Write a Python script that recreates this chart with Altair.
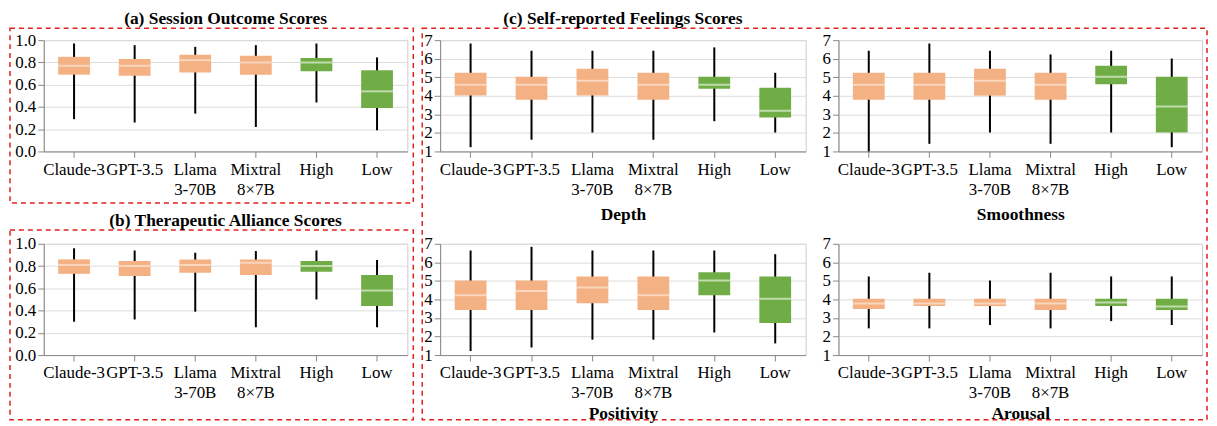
import altair as alt
import pandas as pd

models = ["Claude-3", "GPT-3.5", "Llama 3-70B", "Mixtral 8×7B", "High", "Low"]
groups = ["LLM", "LLM", "LLM", "LLM", "Human", "Human"]

# whisker low, q1, median, q3, whisker high
session = dict(
    lo=[0.29, 0.26, 0.34, 0.22, 0.44, 0.19],
    q1=[0.69, 0.68, 0.71, 0.69, 0.72, 0.39],
    med=[0.77, 0.77, 0.82, 0.80, 0.80, 0.54],
    q3=[0.85, 0.83, 0.87, 0.86, 0.84, 0.73],
    hi=[0.97, 0.955, 0.94, 0.955, 0.97, 0.845],
)
alliance = dict(
    lo=[0.30, 0.32, 0.39, 0.25, 0.50, 0.25],
    q1=[0.73, 0.71, 0.74, 0.72, 0.75, 0.44],
    med=[0.81, 0.80, 0.81, 0.83, 0.80, 0.58],
    q3=[0.86, 0.845, 0.86, 0.86, 0.845, 0.72],
    hi=[0.96, 0.94, 0.92, 0.935, 0.94, 0.855],
)
depth = dict(
    lo=[1.23, 1.63, 2.02, 1.63, 2.63, 2.02],
    q1=[4.01, 3.79, 4.01, 3.79, 4.38, 2.83],
    med=[4.6, 4.6, 4.81, 4.6, 4.6, 3.2],
    q3=[5.24, 5.03, 5.46, 5.24, 5.03, 4.44],
    hi=[6.82, 6.43, 6.43, 6.43, 6.61, 5.24],
)
smoothness = dict(
    lo=[1.0, 1.41, 2.02, 1.41, 2.02, 1.23],
    q1=[3.79, 3.79, 4.01, 3.79, 4.62, 2.02],
    med=[4.6, 4.6, 4.81, 4.6, 5.03, 3.42],
    q3=[5.24, 5.24, 5.46, 5.24, 5.62, 5.03],
    hi=[6.43, 6.82, 6.43, 6.23, 6.43, 6.01],
)
positivity = dict(
    lo=[1.22, 1.41, 1.83, 1.83, 2.22, 1.63],
    q1=[3.43, 3.43, 3.80, 3.43, 4.23, 2.73],
    med=[4.23, 4.45, 4.65, 4.23, 5.02, 4.04],
    q3=[5.02, 5.02, 5.24, 5.24, 5.46, 5.24],
    hi=[6.64, 6.84, 6.64, 6.64, 6.64, 6.44],
)
arousal = dict(
    lo=[2.44, 2.44, 2.62, 2.44, 2.83, 2.62],
    q1=[3.48, 3.64, 3.64, 3.43, 3.64, 3.43],
    med=[3.78, 3.78, 3.78, 3.78, 3.84, 3.62],
    q3=[4.04, 4.04, 4.04, 4.04, 4.04, 4.04],
    hi=[5.24, 5.44, 5.02, 5.44, 5.24, 5.24],
)

unit_ticks = [0.0, 0.2, 0.4, 0.6, 0.8, 1.0]
likert_ticks = [1, 2, 3, 4, 5, 6, 7]

ORANGE = "#F4B183"
GREEN = "#70AD47"
MED_O = "#FBE5D6"
MED_G = "#E2F0D9"
RED = "#E0201B"
FONT = "Liberation Serif"
LABEL_SIZE = 17
TITLE_SIZE = 17.5


def panel(stats, ydom, yvals, fmt, w, h, title=None, xtitle=None, tpad=6, frame=None):
    df = pd.DataFrame({"model": models, "group": groups, **stats})
    xaxis = alt.Axis(labelAngle=0, labelExpr="split(datum.label, ' ')", titleFontWeight="bold",
                     titleFontSize=TITLE_SIZE, titleFont=FONT, titlePadding=tpad, titleColor="black",
                     labelFont=FONT, labelFontSize=LABEL_SIZE, labelColor="black", labelPadding=4,
                     labelLineHeight=20, tickSize=6, labelOverlap=False)
    x = alt.X("model:N", sort=models, title=xtitle,
              scale=alt.Scale(paddingInner=0, paddingOuter=0), axis=xaxis)
    yscale = alt.Scale(domain=ydom, nice=False, zero=False)

    def yaxis():
        return alt.Axis(values=yvals, format=fmt, grid=True, labelOverlap=False,
                        labelFont=FONT, labelFontSize=LABEL_SIZE, labelColor="black",
                        labelPadding=2, tickSize=6, tickCount=len(yvals))

    base = alt.Chart(df).encode(x=x)
    whisk = base.mark_rule(color="black", strokeWidth=2).encode(
        y=alt.Y("lo:Q", scale=yscale, axis=yaxis(), title=None), y2="hi:Q")
    box = base.mark_bar(size=32).encode(
        y=alt.Y("q1:Q", scale=yscale, axis=yaxis(), title=None), y2="q3:Q",
        color=alt.condition(alt.datum.group == "Human", alt.value(GREEN), alt.value(ORANGE)))
    med = base.mark_tick(size=32, thickness=2).encode(
        y=alt.Y("med:Q", scale=yscale, axis=yaxis(), title=None),
        color=alt.condition(alt.datum.group == "Human", alt.value(MED_G), alt.value(MED_O)))
    layers = [whisk, box, med]
    if frame is not None:
        fx, fx2, fy, fy2 = frame
        rect = alt.Chart(pd.DataFrame({"k": [0]})).mark_rect(
            fillOpacity=0, stroke=RED, strokeDash=[5, 4], strokeWidth=1.5
        ).encode(x=alt.value(fx), x2=alt.value(fx2), y=alt.value(fy), y2=alt.value(fy2))
        layers.append(rect)
    ch = alt.layer(*layers).properties(width=w, height=h)
    if title is not None:
        ch = ch.properties(title=alt.TitleParams(title, fontSize=TITLE_SIZE, font=FONT,
                                                 fontWeight="bold", offset=0, color="black"))
    return ch


pa = panel(session, [0, 1], unit_ticks, ".1f", 366, 112, title="(a) Session Outcome Scores",
           frame=(-34, 372, -12, 164))
pb = panel(alliance, [0, 1], unit_ticks, ".1f", 366, 112, title="(b) Therapeutic Alliance Scores",
           frame=(-34, 372, -14, 177))
p_depth = panel(depth, [1, 7], likert_ticks, "d", 368, 112, xtitle="Depth", tpad=9,
                title="(c) Self-reported Feelings Scores", frame=(-18, 772, -12, 382))
p_smooth = panel(smoothness, [1, 7], likert_ticks, "d", 366, 112, xtitle="Smoothness", tpad=9)
p_pos = panel(positivity, [1, 7], likert_ticks, "d", 368, 112, xtitle="Positivity", tpad=4)
p_aro = panel(arousal, [1, 7], likert_ticks, "d", 366, 112, xtitle="Arousal", tpad=4)

chart = alt.concat(
    pa, p_depth, p_smooth, pb, p_pos, p_aro,
    columns=3, bounds="flush", spacing={"row": 93, "column": 33},
).properties(
    padding=0
).configure_view(stroke="#cccccc").configure_axis(
    labelFont=FONT, labelFontSize=LABEL_SIZE, labelColor="black", domainColor="#888888",
    tickColor="#888888", tickSize=6, gridColor="#dddddd",
)

chart.save("out.html", embed_options={"renderer": "svg", "actions": False})
